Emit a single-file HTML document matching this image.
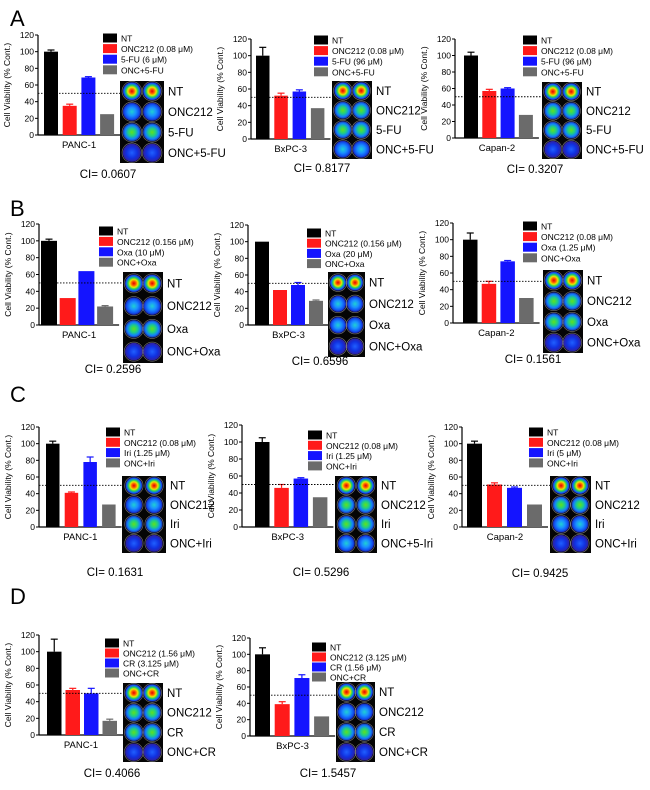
<!DOCTYPE html>
<html><head><meta charset="utf-8">
<style>
html,body{margin:0;padding:0;background:#fff;}
svg{display:block;font-family:"Liberation Sans",Arial,sans-serif;}
</style></head>
<body>
<svg id="fig" width="650" height="790" viewBox="0 0 650 790">
<defs>
<radialGradient id="g-hot" cx="50%" cy="50%" r="50%"><stop offset="0" stop-color="#e00000"/><stop offset="0.25" stop-color="#ff6000"/><stop offset="0.45" stop-color="#e8e800"/><stop offset="0.65" stop-color="#20d060"/><stop offset="0.85" stop-color="#1060ff"/><stop offset="1" stop-color="#2020a0"/></radialGradient>
<radialGradient id="g-green" cx="50%" cy="50%" r="50%"><stop offset="0" stop-color="#60e020"/><stop offset="0.4" stop-color="#20d080"/><stop offset="0.75" stop-color="#1080ff"/><stop offset="1" stop-color="#2030a0"/></radialGradient>
<radialGradient id="g-cyan" cx="50%" cy="50%" r="50%"><stop offset="0" stop-color="#20d0d0"/><stop offset="0.45" stop-color="#1a90ff"/><stop offset="0.8" stop-color="#1050f0"/><stop offset="1" stop-color="#2020a0"/></radialGradient>
<radialGradient id="g-blue" cx="50%" cy="50%" r="50%"><stop offset="0" stop-color="#2060ff"/><stop offset="0.6" stop-color="#1030e0"/><stop offset="1" stop-color="#3020a0"/></radialGradient>
</defs>
</svg>
<script>
// ---- data ----
const tickLabels = [0, 20, 40, 60, 80, 100, 120];
const cellLines = ["PANC-1","BxPC-3","Capan-2","PANC-1","BxPC-3","Capan-2","PANC-1","BxPC-3","Capan-2","PANC-1","BxPC-3"];
const viability = [
  [100,35,69,25],[100,52,57,37],[100,57,60,28],
  [100,32,64,22],[100,42,48,29],[100,47,74,30],
  [100,41,78,27],[100,46,57,35],[100,51,47,27],
  [100,54,50,17],[100,39,71,24]
];
const errors = [
  [2,2,1,0],[10,3,2,0],[4,2,1,0],
  [2,0,0,1],[0,0,3,1],[8,3,1,0],
  [3,1,6,0],[5,4,1,0],[3,2,1,0],
  [15,2,6,2],[8,3,4,0]
];
const ciValues = ["0.0607","0.8177","0.3207","0.2596","0.6596","0.1561","0.1631","0.5296","0.9425","0.4066","1.5457"];
const legendLabels = [
  ["NT","ONC212 (0.08 μM)","5-FU (6 μM)","ONC+5-FU"],
  ["NT","ONC212 (0.08 μM)","5-FU (96 μM)","ONC+5-FU"],
  ["NT","ONC212 (0.08 μM)","5-FU (96 μM)","ONC+5-FU"],
  ["NT","ONC212 (0.156 μM)","Oxa (10 μM)","ONC+Oxa"],
  ["NT","ONC212 (0.156 μM)","Oxa (20 μM)","ONC+Oxa"],
  ["NT","ONC212 (0.08 μM)","Oxa (1.25 μM)","ONC+Oxa"],
  ["NT","ONC212 (0.08 μM)","Iri (1.25 μM)","ONC+Iri"],
  ["NT","ONC212 (0.08 μM)","Iri (1.25 μM)","ONC+Iri"],
  ["NT","ONC212 (0.08 μM)","Iri (5 μM)","ONC+Iri"],
  ["NT","ONC212 (1.56 μM)","CR (3.125 μM)","ONC+CR"],
  ["NT","ONC212 (3.125 μM)","CR (1.56 μM)","ONC+CR"]
];
const wellLabels = [
  ["NT","ONC212","5-FU","ONC+5-FU"],["NT","ONC212","5-FU","ONC+5-FU"],["NT","ONC212","5-FU","ONC+5-FU"],
  ["NT","ONC212","Oxa","ONC+Oxa"],["NT","ONC212","Oxa","ONC+Oxa"],["NT","ONC212","Oxa","ONC+Oxa"],
  ["NT","ONC212","Iri","ONC+Iri"],["NT","ONC212","Iri","ONC+5-Iri"],["NT","ONC212","Iri","ONC+Iri"],
  ["NT","ONC212","CR","ONC+CR"],["NT","ONC212","CR","ONC+CR"]
];
const wellTypes = [
  ["hot","cyan","green","blue"],["hot","green","green","cyan"],["hot","green","green","blue"],
  ["hot","cyan","green","blue"],["hot","cyan","cyan","blue"],["hot","green","green","blue"],
  ["hot","cyan","green","blue"],["hot","green","green","cyan"],["hot","green","cyan","blue"],
  ["hot","green","green","blue"],["hot","cyan","green","blue"]
];
const colors = ["#000000","#ff1a1a","#1414ff","#6b6b6b"];
// ---- layout (positions, not data) ----
const layout = [
  {ax:38,y0:135,y120:35,bx:44,step:18.7,bw:14,wx:120,wy:81,ww:44,wh:82,lgx:103,lgy:38,lgs:10.6,cx:108,cy:178},
  {ax:251,y0:139,y120:39,bx:256,step:18.3,bw:13.5,wx:332,wy:81,ww:40,wh:78,lgx:314,lgy:40,lgs:10.6,cx:322,cy:172},
  {ax:455,y0:138,y120:39,bx:464,step:18.3,bw:14,wx:542,wy:82,ww:40,wh:77,lgx:523,lgy:40,lgs:10.6,cx:535,cy:173},
  {ax:39,y0:325,y120:224,bx:41,step:18.7,bw:16,wx:123,wy:272,ww:40,wh:91,lgx:99,lgy:231,lgs:10.4,cx:113,cy:373},
  {ax:248,y0:325,y120:225,bx:255,step:18,bw:14,wx:328,wy:272,ww:37,wh:85,lgx:307,lgy:233,lgs:10.2,cx:320,cy:365},
  {ax:453,y0:323,y120:223,bx:463,step:18.7,bw:14.5,wx:543,wy:270,ww:40,wh:83,lgx:523,lgy:226,lgs:10.6,cx:533,cy:363},
  {ax:39,y0:527,y120:427,bx:46,step:18.7,bw:13.5,wx:122,wy:476,ww:44,wh:77,lgx:106,lgy:432,lgs:10.3,cx:115,cy:576},
  {ax:242,y0:527,y120:425,bx:255,step:19.3,bw:14.5,wx:335,wy:476,ww:42,wh:77,lgx:308,lgy:435,lgs:10.3,cx:321,cy:576},
  {ax:462,y0:527,y120:427,bx:467,step:20,bw:15,wx:550,wy:476,ww:41,wh:77,lgx:529,lgy:432,lgs:10.3,cx:540,cy:577},
  {ax:39,y0:735,y120:635,bx:47,step:18.5,bw:14.5,wx:123,wy:683,ww:40,wh:79,lgx:105,lgy:643,lgs:10,cx:112,cy:777},
  {ax:250,y0:736,y120:638,bx:255,step:19.7,bw:15,wx:336,wy:682,ww:39,wh:80,lgx:312,lgy:647,lgs:10,cx:328,cy:777}
];
const letters = [["A",10,26],["B",10,216],["C",10,402],["D",10,604]];

const NS = "http://www.w3.org/2000/svg";
const svg = document.getElementById("fig");
function mk(tag, attrs, parent, text){
  const e = document.createElementNS(NS, tag);
  for (const k in attrs) e.setAttribute(k, attrs[k]);
  if (text !== undefined) e.textContent = text;
  (parent||svg).appendChild(e);
  return e;
}
letters.forEach(l=>{
  const t = mk("text",{x:l[1],y:l[2],"font-size":22},svg,l[0]);
  
  
});
layout.forEach((L, i)=>{
  const g = mk("g",{});
  
  
  const yScale = v => L.y0 - (v/120)*(L.y0-L.y120);
  const xBar = k => L.bx + k*L.step;
  const axisEnd = xBar(3) + L.bw + 6;
  const ya = mk("line",{x1:L.ax,y1:L.y120,x2:L.ax,y2:L.y0,stroke:"#000","stroke-width":1.2},g);
  
  
  const xa = mk("line",{x1:L.ax,y1:L.y0,x2:axisEnd,y2:L.y0,stroke:"#000","stroke-width":1.2},g);
  
  
  tickLabels.forEach(tv=>{
    const y = yScale(tv);
    mk("line",{x1:L.ax-3,y1:y,x2:L.ax,y2:y,stroke:"#000","stroke-width":1},g);
    const t = mk("text",{x:L.ax-4,y:y+3,"font-size":8.5,"text-anchor":"end"},g,tv);
    
    
  });
  const ym = (L.y0+L.y120)/2;
  const yt = mk("text",{x:L.ax-28,y:ym,"font-size":8.5,"text-anchor":"middle",transform:`rotate(-90 ${L.ax-28} ${ym})`},g,"Cell Viability (% Cont.)");
  
  
  viability[i].forEach((v,k)=>{
    const x = xBar(k), y = yScale(v);
    const b = mk("rect",{x:x,y:y,width:L.bw,height:L.y0-y,fill:colors[k]},g);
    
    
    const e = errors[i][k];
    if (e>0){
      const ye = yScale(v+e), cx = x+L.bw/2;
      const c = k===0 ? "#000" : colors[k];
      mk("line",{x1:cx,y1:y,x2:cx,y2:ye,stroke:c,"stroke-width":1.2},g);
      const cap = mk("line",{x1:cx-3.5,y1:ye,x2:cx+3.5,y2:ye,stroke:c,"stroke-width":1.2},g);
      
      
    }
  });
  const dl = mk("line",{x1:L.ax,y1:yScale(50),x2:L.wx,y2:yScale(50),stroke:"#000","stroke-width":0.9,"stroke-dasharray":"1.5,1.5"},g);
  
  
  const cl = mk("text",{x:(L.ax+axisEnd)/2,y:L.y0+13,"font-size":9.5,"text-anchor":"middle"},g,cellLines[i]);
  
  
  legendLabels[i].forEach((lab,k)=>{
    const ly = L.lgy + k*L.lgs;
    const sq = mk("rect",{x:L.lgx,y:ly-4.5,width:14,height:9,fill:colors[k]},g);
    
    
    const lt = mk("text",{x:L.lgx+18,y:ly+3.5,"font-size":8.5},g,lab);
    
    
  });
  const wb = mk("rect",{x:L.wx,y:L.wy,width:L.ww,height:L.wh,fill:"#050505"},g);
  
  
  const rh = L.wh/4;
  const r = Math.min(L.ww/4, rh/2) - 1.2;
  wellTypes[i].forEach((wt,row)=>{
    const cy = L.wy + rh*(row+0.5);
    [0,1].forEach(col=>{
      const cx = L.wx + L.ww*(col===0?0.27:0.73);
      mk("circle",{cx:cx,cy:cy,r:r+0.8,fill:"none",stroke:"#777","stroke-width":0.6},g);
      const w = mk("circle",{cx:cx,cy:cy,r:r,fill:`url(#g-${wt})`},g);
      
      
    });
    const wl = mk("text",{x:L.wx+L.ww+4,y:cy+4,"font-size":11.5},g,wellLabels[i][row]);
    
    
  });
  const ci = mk("text",{x:L.cx,y:L.cy,"font-size":11.5,"text-anchor":"middle"},g,"CI= "+ciValues[i]);
  
  
});
</script>
</body></html>
